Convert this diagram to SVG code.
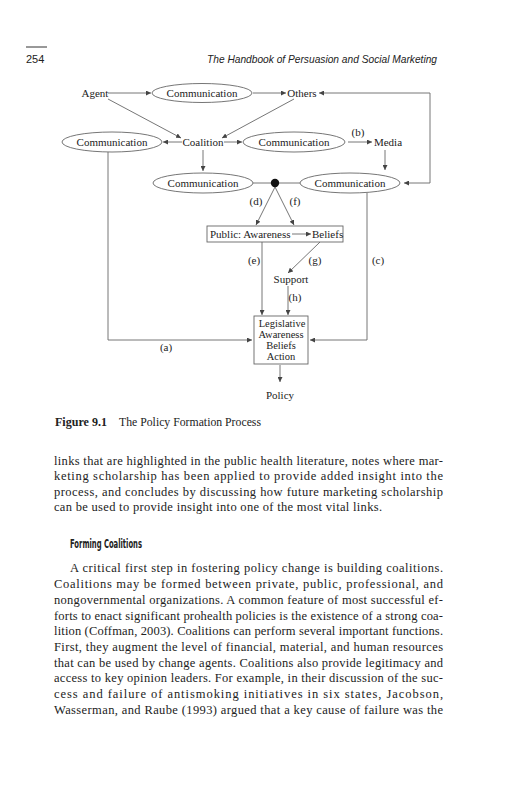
<svg xmlns="http://www.w3.org/2000/svg" width="531" height="800" viewBox="0 0 531 800">
<style>
.d{font-family:"Liberation Serif","Times New Roman",serif;font-size:11px;fill:#222}
.l{font-family:"Liberation Serif","Times New Roman",serif;font-size:10.5px;fill:#222;text-anchor:middle}
.m{text-anchor:middle}
.sh{fill:none;stroke:#666;stroke-width:0.9}
.c{fill:none;stroke:#666;stroke-width:0.9}
.ca{fill:none;stroke:#666;stroke-width:0.9;marker-end:url(#ah)}
.b{font-family:"Liberation Serif","Times New Roman",serif;font-size:12.5px;fill:#222}
</style>
<defs>
<marker id="ah" viewBox="0 0 6 6" refX="6" refY="3" markerWidth="5" markerHeight="5" markerUnits="userSpaceOnUse" orient="auto-start-reverse">
<path d="M0,0 L6,3 L0,6 z" fill="#444"/>
</marker>
</defs>
<rect width="531" height="800" fill="#fff"/>
<g id="header">
<line x1="26" y1="47" x2="47" y2="47" stroke="#333" stroke-width="1"/>
<text x="26" y="63" font-family="Liberation Sans, Arial, sans-serif" font-size="11" fill="#222">254</text>
<text x="207" y="63" font-family="Liberation Sans, Arial, sans-serif" font-size="11" font-style="italic" fill="#222" textLength="230" lengthAdjust="spacingAndGlyphs">The Handbook of Persuasion and Social Marketing</text>
</g>
<g id="connectors">
<line class="ca" x1="108" y1="93" x2="151" y2="93"/>
<line class="ca" x1="253" y1="93" x2="286" y2="93"/>
<path class="ca" style="marker-start:url(#ah)" d="M319,93 L430,93 L430,183 L404,183"/>
<line class="ca" x1="108" y1="99" x2="181" y2="138"/>
<line class="ca" x1="294" y1="99" x2="222" y2="138"/>
<line class="ca" x1="182" y1="142" x2="163" y2="142"/>
<line class="ca" x1="224" y1="142" x2="242" y2="142"/>
<line class="ca" x1="348" y1="142" x2="372" y2="142"/>
<line class="ca" x1="385" y1="150" x2="385" y2="170"/>
<line class="ca" x1="203" y1="150" x2="203" y2="171"/>
<line class="c" x1="253" y1="183" x2="300" y2="183"/>
<line class="ca" x1="275" y1="187" x2="256" y2="225"/>
<line class="ca" x1="275" y1="187" x2="294" y2="225"/>
<line class="ca" x1="262" y1="242" x2="262" y2="315"/>
<line class="ca" x1="320" y1="242" x2="288" y2="273"/>
<line class="ca" x1="288" y1="286" x2="288" y2="315"/>
<path class="ca" d="M108,152 L108,340 L252,340"/>
<path class="ca" d="M367,193 L367,340 L310,340"/>
<line class="ca" x1="280" y1="365" x2="280" y2="382"/>
<line class="ca" x1="292" y1="234" x2="311" y2="234"/>
</g>
<g id="labels">
<text class="d m" x="358" y="136">(b)</text>
<text class="d m" x="256" y="205">(d)</text>
<text class="d m" x="295" y="205">(f)</text>
<text class="d m" x="254" y="264">(e)</text>
<text class="d m" x="315" y="264">(g)</text>
<text class="d m" x="378" y="264">(c)</text>
<text class="d m" x="295" y="301">(h)</text>
<text class="d m" x="166" y="351">(a)</text>
</g>
<g id="agent"><text class="d m" x="95" y="97">Agent</text></g>
<g id="comm1"><ellipse class="sh" cx="202" cy="93" rx="50" ry="9.5"/><text class="d m" x="202" y="97">Communication</text></g>
<g id="others"><text class="d m" x="302" y="97">Others</text></g>
<g id="comm2"><ellipse class="sh" cx="112" cy="142" rx="50" ry="10"/><text class="d m" x="112" y="146">Communication</text></g>
<g id="coalition"><text class="d m" x="203" y="146">Coalition</text></g>
<g id="comm3"><ellipse class="sh" cx="294" cy="142" rx="51" ry="10"/><text class="d m" x="294" y="146">Communication</text></g>
<g id="media"><text class="d m" x="388" y="146">Media</text></g>
<g id="comm4"><ellipse class="sh" cx="203" cy="183" rx="50" ry="10"/><text class="d m" x="203" y="187">Communication</text></g>
<g id="dot"><circle cx="275" cy="183" r="4.2" fill="#111"/></g>
<g id="comm5"><ellipse class="sh" cx="350" cy="183" rx="50" ry="10"/><text class="d m" x="350" y="187">Communication</text></g>
<g id="public"><rect class="sh" x="207" y="226" width="136" height="16"/><text class="d" x="210" y="238">Public: Awareness</text><text class="d" x="312" y="238">Beliefs</text></g>
<g id="support"><text class="d m" x="291" y="283">Support</text></g>
<g id="legislative"><rect class="sh" x="254" y="316" width="54" height="48"/>
<text class="l" x="282" y="327">Legislative</text>
<text class="l" x="281" y="338">Awareness</text>
<text class="l" x="281" y="349">Beliefs</text>
<text class="l" x="281" y="360">Action</text></g>
<g id="policy"><text class="d m" x="280" y="399">Policy</text></g>
<g id="caption">
<text x="55" y="426" font-family="Liberation Serif, serif" font-size="11.5" font-weight="bold" fill="#222" textLength="52" lengthAdjust="spacingAndGlyphs">Figure 9.1</text>
<text x="119" y="426" font-family="Liberation Serif, serif" font-size="11.5" fill="#222" textLength="142" lengthAdjust="spacingAndGlyphs">The Policy Formation Process</text>
</g>
<g id="body">
<text class="b" x="54" y="465" textLength="389" lengthAdjust="spacing">links that are highlighted in the public health literature, notes where mar-</text>
<text class="b" x="54" y="480" textLength="389" lengthAdjust="spacing">keting scholarship has been applied to provide added insight into the</text>
<text class="b" x="54" y="496" textLength="389" lengthAdjust="spacing">process, and concludes by discussing how future marketing scholarship</text>
<text class="b" x="54" y="511" textLength="328" lengthAdjust="spacing">can be used to provide insight into one of the most vital links.</text>
<text x="70" y="548" font-family="'DejaVu Sans Condensed','Liberation Sans Narrow','Liberation Sans',sans-serif" font-size="12" font-weight="bold" fill="#222" textLength="72" lengthAdjust="spacingAndGlyphs">Forming Coalitions</text>
<text class="b" x="70" y="572" textLength="373" lengthAdjust="spacing">A critical first step in fostering policy change is building coalitions.</text>
<text class="b" x="54" y="588" textLength="389" lengthAdjust="spacing">Coalitions may be formed between private, public, professional, and</text>
<text class="b" x="54" y="604" textLength="389" lengthAdjust="spacing">nongovernmental organizations. A common feature of most successful ef-</text>
<text class="b" x="54" y="620" textLength="389" lengthAdjust="spacing">forts to enact significant prohealth policies is the existence of a strong coa-</text>
<text class="b" x="54" y="635" textLength="389" lengthAdjust="spacing">lition (Coffman, 2003). Coalitions can perform several important functions.</text>
<text class="b" x="54" y="651" textLength="389" lengthAdjust="spacing">First, they augment the level of financial, material, and human resources</text>
<text class="b" x="54" y="667" textLength="389" lengthAdjust="spacing">that can be used by change agents. Coalitions also provide legitimacy and</text>
<text class="b" x="54" y="682" textLength="389" lengthAdjust="spacing">access to key opinion leaders. For example, in their discussion of the suc-</text>
<text class="b" x="54" y="698" textLength="389" lengthAdjust="spacing">cess and failure of antismoking initiatives in six states, Jacobson,</text>
<text class="b" x="54" y="714" textLength="389" lengthAdjust="spacing">Wasserman, and Raube (1993) argued that a key cause of failure was the</text>
</g>
</svg>
